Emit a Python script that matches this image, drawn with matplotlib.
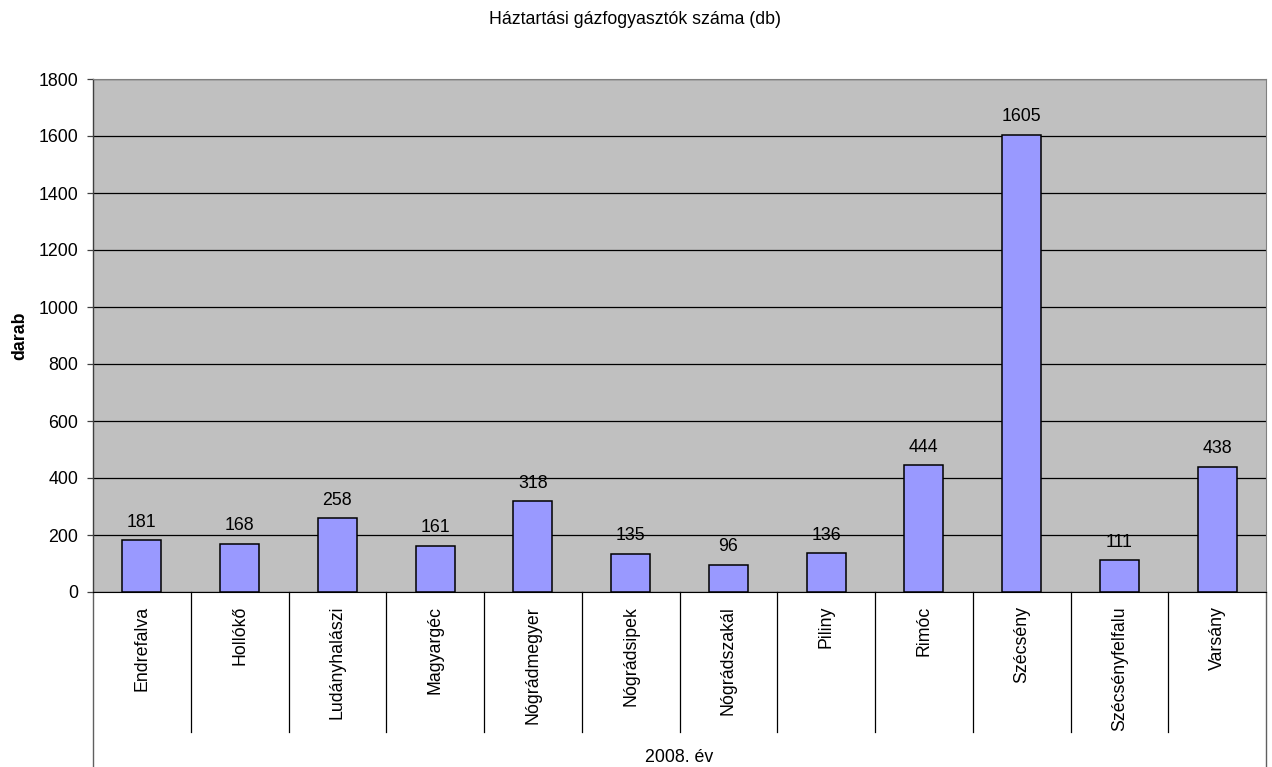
import matplotlib
matplotlib.use("Agg")
import matplotlib.pyplot as plt
import matplotlib.transforms as mtransforms

plt.rcParams["font.family"] = ["Liberation Sans", "DejaVu Sans"]

towns = [
    "Endrefalva", "Hollókő", "Ludányhalászi", "Magyargéc", "Nógrádmegyer",
    "Nógrádsipek", "Nógrádszakál", "Piliny", "Rimóc", "Szécsény",
    "Szécsényfelfalu", "Varsány",
]
consumers = [181, 168, 258, 161, 318, 135, 96, 136, 444, 1605, 111, 438]
y_ticks = [0, 200, 400, 600, 800, 1000, 1200, 1400, 1600, 1800]
group_label = "2008. év"
title = "Háztartási gázfogyasztók száma (db)"

FS = 12.8
W, H = 1272, 767
fig = plt.figure(figsize=(W / 100, H / 100), dpi=100)
left, right, top, bottom = 93, 1266, 79, 592
ax = fig.add_axes([left / W, 1 - bottom / H, (right - left) / W, (bottom - top) / H])
ax.set_facecolor("#C0C0C0")

x = list(range(len(towns)))
ax.bar(x, consumers, width=0.4, color="#9999FF", edgecolor="black", linewidth=1.1, zorder=3)

ax.set_xlim(-0.5, len(towns) - 0.5)
ax.set_ylim(0, 1800)
ax.set_yticks(y_ticks)
ax.yaxis.grid(True, color="black", linewidth=0.9, zorder=1)
ax.set_axisbelow(True)

for xi, v in zip(x, consumers):
    ax.annotate(str(v), (xi, v), xytext=(0, 7), textcoords="offset points",
                ha="center", va="bottom", fontsize=FS)

ax.set_xticks(x)
ax.set_xticklabels(towns, rotation=90, fontsize=FS, va="top", ha="center")
ax.tick_params(axis="x", length=0, pad=10)
ax.tick_params(axis="y", length=4.5, width=0.9, color="#404040", pad=6, labelsize=FS)

for s in ["top", "right"]:
    ax.spines[s].set_color("#808080")
ax.spines["left"].set_color("#404040")
ax.spines["bottom"].set_color("black")
ax.spines["left"].set_linewidth(1.0)

# category separators below the axis
trans = mtransforms.blended_transform_factory(ax.transData, ax.transAxes)
h_ax = bottom - top
y_sep = (bottom - 732) / h_ax
y_out = (bottom - 767) / h_ax
for b in range(1, len(towns)):
    ax.plot([b - 0.5, b - 0.5], [0, y_sep], color="black", linewidth=0.9,
            transform=trans, clip_on=False)
for b in [-0.5, len(towns) - 0.5]:
    ax.plot([b, b], [0, y_out], color="#606060", linewidth=1.0,
            transform=trans, clip_on=False)

ax.text(0.5, (bottom - 757) / h_ax, group_label, transform=ax.transAxes,
        ha="center", va="center", fontsize=FS)

ax.set_ylabel("darab", fontsize=FS, fontweight="bold")
ax.yaxis.set_label_coords((28 - left) / (right - left), 0.5)

fig.text(635 / W, 1 - 19 / H, title, ha="center", va="center", fontsize=FS)

fig.savefig("out.png", dpi=100)
